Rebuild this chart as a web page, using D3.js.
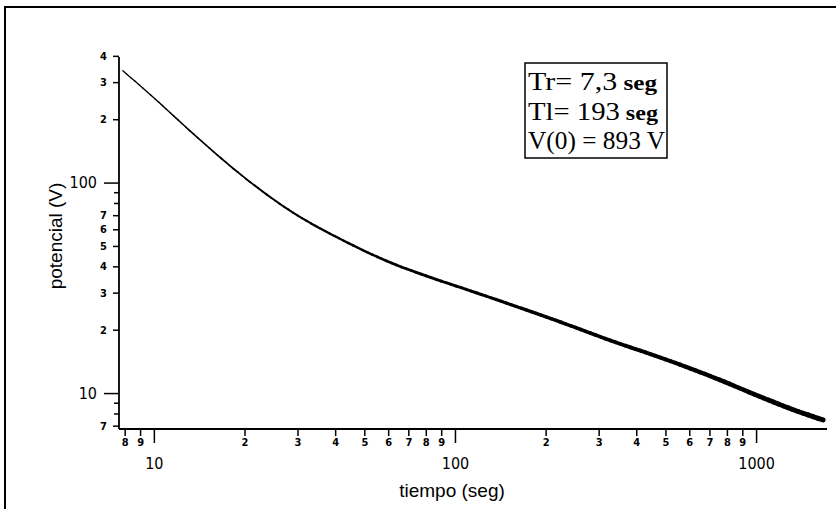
<!DOCTYPE html>
<html><head><meta charset="utf-8">
<script src="https://cdn.jsdelivr.net/npm/d3@7"></script>
<style>
body{margin:0;background:#fff;}
svg{display:block;}
</style></head>
<body>
<svg id="chart" width="836" height="509"></svg>
<script>
// ---- data ----
const time      = [7.89, 10.08, 14.0, 20.0, 28.3, 43.8, 60.8, 82.6, 106, 156, 229, 335, 491, 719, 1003, 1284, 1669];
const potential = [340, 250, 163, 105.6, 73.6, 52.0, 41.8, 35.5, 31.5, 26.1, 21.5, 17.6, 14.6, 11.9, 9.78, 8.49, 7.45];
const xMajorTicks = [10, 100, 1000];
const xMinorTicks = [8, 9, 20, 30, 40, 50, 60, 70, 80, 90, 200, 300, 400, 500, 600, 700, 800, 900];
const yMajorTicks = [10, 100];
const yMinorLabeled = [7, 20, 30, 40, 50, 60, 70, 200, 300, 400];
const yMinorUnlabeled = [8, 9, 80, 90];
const legendLines = [["Tr= 7,3", " seg"], ["Tl= 193", " seg"], ["V(0) = 893 V", ""]];
const xTitle = "tiempo (seg)";
const yTitle = "potencial (V)";

const svg = d3.select("#chart");
const x = d3.scaleLog().domain([7.66, 1720]).range([119, 827]);
const y = d3.scaleLog().domain([6.75, 395]).range([429, 57]);

// outer frame (top and left)
svg.append("path").attr("d", "M5,509 V7 H836").attr("fill", "none").attr("stroke", "#000").attr("stroke-width", 2);

const tickFont = "'Liberation Sans Narrow','DejaVu Sans Condensed',sans-serif";
const firstDigit = d => String(d).charAt(0);

function style(g, size, bold) {
  g.select(".domain").remove();
  g.selectAll("line").attr("stroke", "#000").attr("stroke-width", 1.5);
  g.selectAll("text").attr("fill", "#000").style("font-family", tickFont)
    .style("font-size", size + "px").style("font-weight", bold ? "bold" : "normal");
}

// x axis
svg.append("g").attr("transform", "translate(0,429)")
  .call(d3.axisBottom(x).tickValues(xMinorTicks).tickSize(7).tickPadding(2).tickFormat(firstDigit))
  .call(g => style(g, 11, true));
svg.append("g").attr("transform", "translate(0,429)")
  .call(d3.axisBottom(x).tickValues(xMajorTicks).tickSize(14).tickPadding(15).tickFormat(d3.format("d")))
  .call(g => style(g, 16, false));

// y axis
svg.append("g").attr("transform", "translate(119,0)")
  .call(d3.axisLeft(y).tickValues(yMinorLabeled).tickSize(6).tickPadding(6).tickFormat(firstDigit))
  .call(g => style(g, 11, true));
svg.append("g").attr("transform", "translate(119,0)")
  .call(d3.axisLeft(y).tickValues(yMinorUnlabeled).tickSize(5).tickFormat(""))
  .call(g => style(g, 11, true));
svg.append("g").attr("transform", "translate(119,0)")
  .call(d3.axisLeft(y).tickValues(yMajorTicks).tickSize(15).tickPadding(7).tickFormat(d3.format("d")))
  .call(g => style(g, 16, false));

// axis lines
svg.append("line").attr("x1", x.range()[0]).attr("x2", x.range()[1]).attr("y1", 429).attr("y2", 429)
  .attr("stroke", "#000").attr("stroke-width", 1.8);
svg.append("line").attr("x1", 119).attr("x2", 119).attr("y1", y.range()[0]).attr("y2", y.range()[1])
  .attr("stroke", "#000").attr("stroke-width", 1.8);

// titles
svg.append("text").attr("x", 452).attr("y", 497).attr("text-anchor", "middle")
  .style("font-family", "'Liberation Sans',Arial,sans-serif").style("font-size", "19px").text(xTitle);
svg.append("text").attr("transform", "translate(62,236) rotate(-90)").attr("text-anchor", "middle")
  .style("font-family", "'Liberation Sans',Arial,sans-serif").style("font-size", "19px").text(yTitle);

// data curve: drawn as segments getting thicker (noise thickens the trace on the right)
const pts = time.map((t, i) => [x(t), y(potential[i])]);
const line = d3.line().curve(d3.curveMonotoneX);
const fullPath = svg.append("path").attr("d", line(pts)).attr("fill", "none").attr("stroke", "none");
const node = fullPath.node();
const L = node.getTotalLength();
const N = 150;
for (let i = 0; i < N; i++) {
  const a = node.getPointAtLength(L * i / N), b = node.getPointAtLength(L * (i + 1) / N);
  const f = i / N;
  svg.append("line").attr("x1", a.x).attr("y1", a.y).attr("x2", b.x).attr("y2", b.y)
    .attr("stroke", "#000").attr("stroke-linecap", "round")
    .attr("stroke-width", 1.3 + 3.7 * Math.pow(f, 1.2));
}

// legend box
const lg = svg.append("g");
lg.append("rect").attr("x", 525).attr("y", 63).attr("width", 142).attr("height", 95)
  .attr("fill", "#fff").attr("stroke", "#000").attr("stroke-width", 1.5);
const widths = [129, 130, 137];
legendLines.forEach((ln, i) => {
  const t = lg.append("text").attr("x", 528).attr("y", 90 + i * 29.5)
    .attr("textLength", widths[i]).attr("lengthAdjust", "spacingAndGlyphs")
    .style("font-family", "'Liberation Serif','Times New Roman',serif").style("font-size", "25px");
  t.append("tspan").text(ln[0]);
  if (ln[1]) t.append("tspan").style("font-weight", "bold").style("font-size", "21px").text(ln[1]);
});
</script>
</body></html>
